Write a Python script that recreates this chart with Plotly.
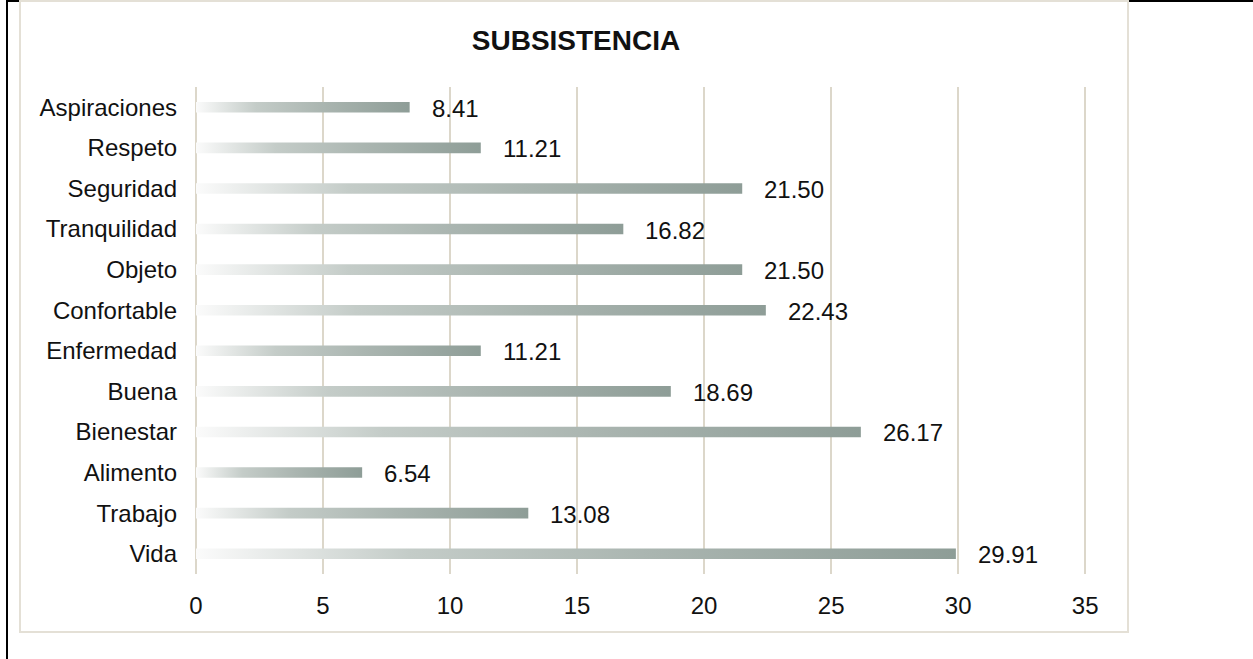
import plotly.graph_objects as go

# Categories listed top to bottom, with their percentages
categories = ["Aspiraciones", "Respeto", "Seguridad", "Tranquilidad", "Objeto",
              "Confortable", "Enfermedad", "Buena", "Bienestar", "Alimento",
              "Trabajo", "Vida"]
values = [8.41, 11.21, 21.50, 16.82, 21.50, 22.43, 11.21, 18.69, 26.17, 6.54, 13.08, 29.91]
x_ticks = [0, 5, 10, 15, 20, 25, 30, 35]

W, H = 1253, 659
X_MAX = 35.15                      # a little past 35 so the last gridline shows
PX_PER_UNIT = (1085 - 196) / 35
L, T, B = 196, 87, 574             # plot area in pixels
R = round(L + X_MAX * PX_PER_UNIT)
FONT = "Liberation Sans, Arial, sans-serif"
GRID = "#dcd7ca"
FRAME = "#e4e0d6"
BAR_SCALE = [[0.0, "#fbfbfb"], [0.28, "#c4ccc8"], [0.6, "#aab5b0"], [1.0, "#8e9d97"]]
HALF = 0.13  # half of bar thickness in category units

fig = go.Figure()

for i, (cat, v) in enumerate(zip(categories, values)):
    fig.add_trace(go.Scatter(
        x=[0, v, v, 0, 0],
        y=[i - HALF, i - HALF, i + HALF, i + HALF, i - HALF],
        mode="lines",
        line=dict(width=0),
        fill="toself",
        fillgradient=dict(type="horizontal", colorscale=BAR_SCALE),
        hoverinfo="skip",
        showlegend=False,
        name=cat,
    ))
    fig.add_annotation(
        x=v, y=i, text=f"{v:.2f}", showarrow=False,
        xanchor="left", yanchor="middle", xshift=20, yshift=-1,
        font=dict(family=FONT, size=24, color="#111111"),
    )


def px_x(p):
    return (p - L) / (R - L)


def px_y(p):
    return (B - p) / (B - T)


shapes = [
    # outer page border (left and top)
    dict(type="line", xref="paper", yref="paper", x0=px_x(7), x1=px_x(7),
         y0=px_y(0), y1=px_y(H + 5), line=dict(color="black", width=2)),
    dict(type="line", xref="paper", yref="paper", x0=px_x(6), x1=px_x(W + 5),
         y0=px_y(1), y1=px_y(1), line=dict(color="black", width=2)),
    # chart frame
    dict(type="rect", xref="paper", yref="paper", x0=px_x(20), x1=px_x(1128),
         y0=px_y(632), y1=px_y(1), line=dict(color=FRAME, width=2),
         fillcolor="white"),
]

fig.update_layout(
    width=W, height=H,
    margin=dict(l=L, r=W - R, t=T, b=H - B, pad=0),
    paper_bgcolor="white", plot_bgcolor="rgba(0,0,0,0)",
    shapes=shapes,
    title=dict(text="<b>SUBSISTENCIA</b>", xref="container", x=576 / W,
               xanchor="center", yref="container", y=1 - 40 / H, yanchor="middle",
               font=dict(family=FONT, size=28, color="#111111")),
    xaxis=dict(range=[0, X_MAX], tickvals=x_ticks, ticktext=[str(t) for t in x_ticks],
               showgrid=True, gridcolor=GRID, gridwidth=2,
               zeroline=True, zerolinecolor=GRID, zerolinewidth=2,
               showline=False, ticks="", ticklabelstandoff=15,
               tickfont=dict(family=FONT, size=24, color="#111111"),
               fixedrange=True),
    yaxis=dict(range=[len(categories) - 0.5, -0.5],
               tickvals=list(range(len(categories))), ticktext=categories,
               showgrid=False, zeroline=False, showline=False, ticks="",
               ticklabelstandoff=18,
               tickfont=dict(family=FONT, size=24, color="#111111"),
               fixedrange=True),
)

# shapes sit below the traces so the white frame does not cover the bars
for s in fig.layout.shapes:
    s.layer = "below"

fig.write_html("out.html")
